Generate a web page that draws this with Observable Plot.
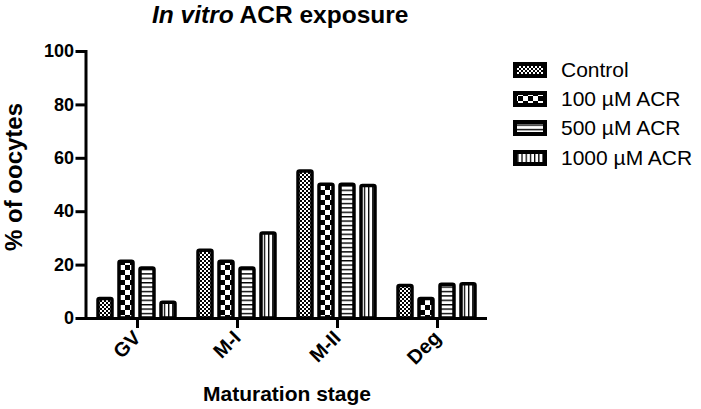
<!DOCTYPE html>
<html>
<head>
<meta charset="utf-8">
<script src="https://cdn.jsdelivr.net/npm/d3@7"></script>
<script src="https://cdn.jsdelivr.net/npm/@observablehq/plot@0.6"></script>
<style>
  html, body { margin: 0; padding: 0; background: #fff; }
  #wrap { position: relative; width: 701px; height: 409px; font-family: "Liberation Sans", Arial, sans-serif; color: #000; }
  #title { position: absolute; left: 152px; top: 3px; font-size: 24.5px; font-weight: bold; line-height: 24px; white-space: nowrap; }
  #chart { position: absolute; left: 0; top: 40px; }
  #xlabel { position: absolute; left: 187px; width: 200px; top: 383px; text-align: center; font-size: 21px; font-weight: bold; line-height: 21px; white-space: nowrap; }
  #ylabel { position: absolute; left: 14px; top: 177px; transform: translate(-50%, -50%) rotate(-90deg); font-size: 24px; font-weight: bold; line-height: 24px; white-space: nowrap; }
  #legend { position: absolute; left: 513px; top: 55px; }
  .row { display: flex; align-items: center; height: 29.3px; }
  .row svg { display: block; }
  .row span { margin-left: 14px; font-size: 21px; white-space: nowrap; }
</style>
</head>
<body>
<svg width="0" height="0" style="position:absolute">
  <defs>
    <pattern id="p0" patternUnits="userSpaceOnUse" width="4" height="4">
      <rect width="4" height="4" fill="#fff"/>
      <rect x="0" y="0" width="2" height="2" fill="#000"/>
      <rect x="2" y="2" width="2" height="2" fill="#000"/>
    </pattern>
    <pattern id="p1" patternUnits="userSpaceOnUse" width="10" height="10">
      <rect width="10" height="10" fill="#fff"/>
      <rect x="0" y="0" width="5" height="5" fill="#000"/>
      <rect x="5" y="5" width="5" height="5" fill="#000"/>
    </pattern>
    <pattern id="p2" patternUnits="userSpaceOnUse" width="4.4" height="4.4">
      <rect width="4.4" height="4.4" fill="#fff"/>
      <rect x="0" y="0" width="4.4" height="1.4" fill="#000"/>
    </pattern>
    <pattern id="p3" patternUnits="userSpaceOnUse" width="4.2" height="4.2">
      <rect width="4.2" height="4.2" fill="#fff"/>
      <rect x="0" y="0" width="1.3" height="4.2" fill="#000"/>
    </pattern>
  </defs>
</svg>
<div id="wrap">
  <div id="title"><i>In vitro</i> ACR exposure</div>
  <div id="chart"></div>
  <div id="ylabel">% of oocytes</div>
  <div id="xlabel">Maturation stage</div>
  <div id="legend"></div>
</div>
<script>
// ---- data ----
const stages = ["GV", "M-I", "M-II", "Deg"];
const groups = ["Control", "100 µM ACR", "500 µM ACR", "1000 µM ACR"];
const control = [7.3, 25.4, 55.1, 12.2];
const acr100 = [21.3, 21.3, 50.1, 7.3];
const acr500 = [18.7, 18.7, 50.1, 12.6];
const acr1000 = [5.9, 31.8, 49.6, 12.8];
const yTicks = [0, 20, 40, 60, 80, 100];
const patterns = ["url(#p0)", "url(#p1)", "url(#p2)", "url(#p3)"];

const series = [control, acr100, acr500, acr1000];
const data = [];
stages.forEach((s, i) => groups.forEach((g, j) => data.push({stage: s, group: g, value: series[j][i]})));

const font = "Liberation Sans, Arial, sans-serif";

const chart = Plot.plot({
  width: 701,
  height: 369,
  marginLeft: 87,
  marginRight: 214,
  marginTop: 11,
  marginBottom: 91,
  style: {fontFamily: font, color: "#000", background: "transparent"},
  fx: {domain: stages, padding: 0},
  x: {domain: groups, paddingInner: 0.32, paddingOuter: 0.504, axis: null},
  y: {domain: [0, 100]},
  color: {type: "ordinal", domain: groups, range: patterns},
  marks: [
    Plot.barY(data, {fx: "stage", x: "group", y: "value", fill: "group", stroke: "#000", strokeWidth: 3.5, rx: 1.5}),
    Plot.ruleY([0], {stroke: "#000", strokeWidth: 3}),
    Plot.frame({anchor: "left", facetAnchor: "left", stroke: "#000", strokeWidth: 3, dx: -1.5}),
    Plot.axisY({ticks: yTicks, tickSize: 10, tickPadding: 2, strokeWidth: 3, dx: -1.5,
      fontSize: 18, fontWeight: "bold", label: null}),
    Plot.axisFx({anchor: "bottom", tickSize: 10, strokeWidth: 3, tickRotate: -45, tickPadding: 6,
      fontSize: 20, fontWeight: "bold", label: null})
  ]
});
document.getElementById("chart").appendChild(chart);

// legend
const legend = document.getElementById("legend");
groups.forEach((g, j) => {
  const row = document.createElement("div");
  row.className = "row";
  row.innerHTML = `<svg width="34" height="16"><rect x="2" y="2" width="30" height="12" fill="${patterns[j]}" stroke="#000" stroke-width="4"/></svg><span>${g}</span>`;
  legend.appendChild(row);
});
</script>
</body>
</html>
